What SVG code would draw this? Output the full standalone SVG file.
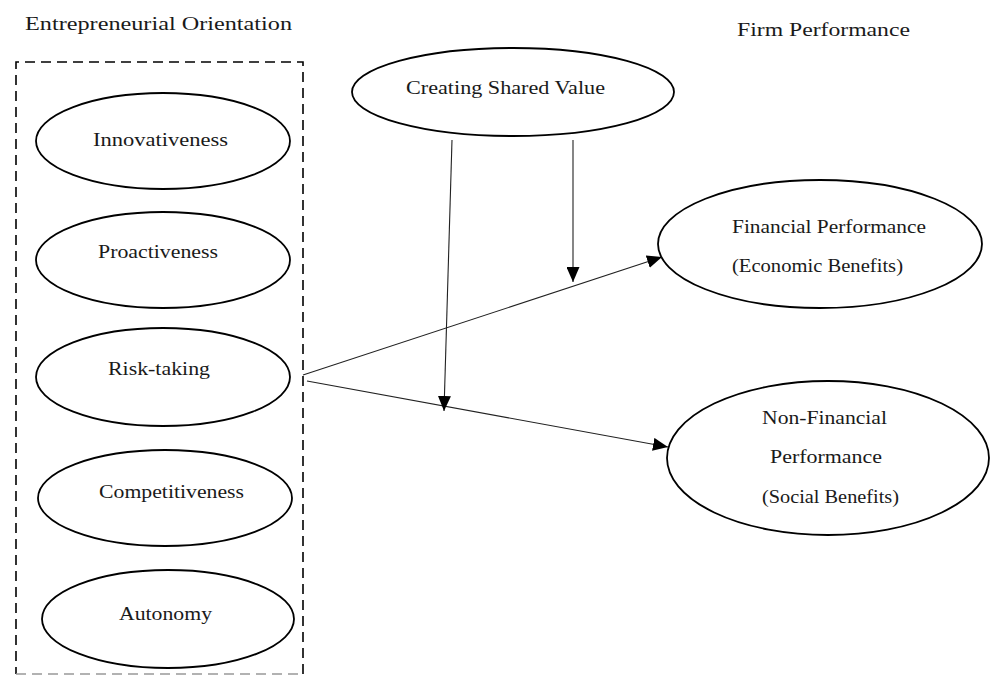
<svg xmlns="http://www.w3.org/2000/svg" width="991" height="675" viewBox="0 0 991 675">
<style>
  .node ellipse { fill: #fff; stroke: #000; stroke-width: 1.8; }
  text { font-family: "Liberation Serif", "Times New Roman", serif; font-size: 19px; fill: #1a1a1a; }
  .conn line { stroke: #222; stroke-width: 1.1; }
  .box { fill: none; stroke: #000; stroke-width: 1.6; stroke-dasharray: 10 6; }
</style>
<defs>
  <marker id="arr" viewBox="0 0 15 13" refX="15" refY="6.5" markerWidth="15" markerHeight="13" markerUnits="userSpaceOnUse" orient="auto">
    <path d="M0,0 L15,6.5 L0,13 Z" fill="#000"/>
  </marker>
</defs>
<rect width="991" height="675" fill="#fff"/>

<text x="25" y="30" textLength="267" lengthAdjust="spacingAndGlyphs">Entrepreneurial Orientation</text>
<text x="737" y="36" textLength="173" lengthAdjust="spacingAndGlyphs">Firm Performance</text>

<g id="eo-box">
  <path class="box" d="M303,674 L303,62 L16,62 L16,674"/>
  <line x1="16" y1="674" x2="303" y2="674" stroke="#999" stroke-width="1.4" stroke-dasharray="10 6"/>
</g>

<g id="innovativeness" class="node">
  <ellipse cx="163" cy="141" rx="127" ry="48"/>
  <text x="93" y="146" textLength="135" lengthAdjust="spacingAndGlyphs">Innovativeness</text>
</g>
<g id="proactiveness" class="node">
  <ellipse cx="163" cy="260" rx="127" ry="48"/>
  <text x="98" y="258" textLength="120" lengthAdjust="spacingAndGlyphs">Proactiveness</text>
</g>
<g id="risk-taking" class="node">
  <ellipse cx="163" cy="377" rx="127" ry="49"/>
  <text x="108" y="375" textLength="102" lengthAdjust="spacingAndGlyphs">Risk-taking</text>
</g>
<g id="competitiveness" class="node">
  <ellipse cx="165" cy="498" rx="127" ry="48"/>
  <text x="99" y="498" textLength="145" lengthAdjust="spacingAndGlyphs">Competitiveness</text>
</g>
<g id="autonomy" class="node">
  <ellipse cx="168" cy="619" rx="126" ry="49"/>
  <text x="119" y="620" textLength="93" lengthAdjust="spacingAndGlyphs">Autonomy</text>
</g>

<g id="csv" class="node">
  <ellipse cx="513" cy="92" rx="161" ry="44"/>
  <text x="406" y="94" textLength="199" lengthAdjust="spacingAndGlyphs">Creating Shared Value</text>
</g>

<g id="financial" class="node">
  <ellipse cx="820" cy="244" rx="162" ry="64"/>
  <text x="732" y="233" textLength="194" lengthAdjust="spacingAndGlyphs">Financial Performance</text>
  <text x="732" y="272" textLength="171" lengthAdjust="spacingAndGlyphs">(Economic Benefits)</text>
</g>

<g id="nonfinancial" class="node">
  <ellipse cx="828" cy="458" rx="161" ry="77"/>
  <text x="762" y="424" textLength="125" lengthAdjust="spacingAndGlyphs">Non-Financial</text>
  <text x="770" y="463" textLength="112" lengthAdjust="spacingAndGlyphs">Performance</text>
  <text x="762" y="503" textLength="137" lengthAdjust="spacingAndGlyphs">(Social Benefits)</text>
</g>

<g id="connectors" class="conn">
  <line x1="303" y1="375" x2="662" y2="257" marker-end="url(#arr)"/>
  <line x1="307" y1="381" x2="668" y2="447" marker-end="url(#arr)"/>
  <line x1="452" y1="140" x2="444" y2="411" marker-end="url(#arr)"/>
  <line x1="573" y1="140" x2="573" y2="282" marker-end="url(#arr)"/>
</g>
</svg>
